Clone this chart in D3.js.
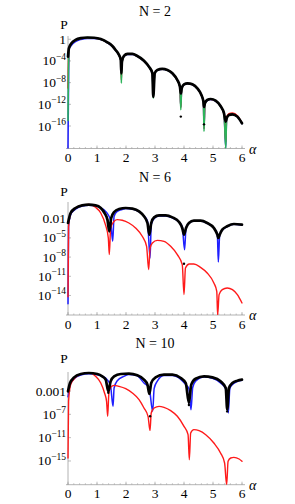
<!DOCTYPE html>
<html>
<head>
<meta charset="utf-8">
<script src="https://cdn.jsdelivr.net/npm/d3@7"></script>
<style>
  body { margin: 0; background: #fff; }
  svg { display: block; font-family: "Liberation Serif", "Times New Roman", serif; }
</style>
</head>
<body>
<div id="chart"></div>
<script>
// values: alpha and log10(P)
const xTicks = [0, 1, 2, 3, 4, 5, 6];

// ---- N = 2 ----
const alphaN2 = [0, 0.03, 0.12, 0.26, 0.44, 0.67, 0.9, 1.13, 1.36, 1.53, 1.64, 1.76, 1.82, 1.84, 1.86, 1.93, 2.05, 2.22, 2.39, 2.62, 2.79, 2.91, 2.94, 2.99, 3.08, 3.25, 3.43, 3.6, 3.77, 3.86, 3.89, 3.92, 4.0, 4.12, 4.29, 4.46, 4.6, 4.67, 4.69, 4.72, 4.8, 4.92, 5.09, 5.26, 5.38, 5.44, 5.47, 5.55, 5.67, 5.84, 6.0];
const blackN2 = [-3.2, -1.67, -0.74, -0.13, 0.2, 0.32, 0.28, 0.04, -0.56, -1.24, -1.97, -2.9, -3.82, -6.3, -4.13, -3.08, -2.71, -2.71, -3.08, -3.95, -5.05, -6.28, -10.6, -6.28, -5.66, -5.48, -5.66, -6.28, -7.51, -8.74, -10.0, -9.05, -8.31, -8.12, -8.31, -9.05, -10.28, -11.51, -12.5, -11.82, -11.2, -11.02, -11.33, -12.31, -13.66, -15.2, -14.58, -13.97, -13.84, -14.27, -15.5];
const blueN2 = [-21, -1.9, -1.1, -0.45, -0.05, 0.15, 0.15, -0.05, -0.65, -1.35, -2.05, -3.0, -3.9, -6.6, -4.2, -3.15, -2.8, -2.8, -3.15, -4.05, -5.1, -6.35, -10.5, -6.35, -5.75, -5.55, -5.75, -6.35, -7.6, -8.8, -12.5, -9.1, -8.4, -8.2, -8.4, -9.1, -10.35, -11.6, -16.5, -11.9, -11.3, -11.1, -11.4, -12.4, -13.7, -20, -14.6, -14.0, -13.9, -14.3, -15.55];
const redN2 = [-9, -1.7, -0.8, -0.2, 0.15, 0.3, 0.25, 0.0, -0.6, -1.3, -2.0, -2.95, -3.85, -7.5, -4.15, -3.1, -2.75, -2.75, -3.1, -4.0, -5.05, -6.3, -10.3, -6.3, -5.7, -5.5, -5.7, -6.3, -7.55, -8.75, -12.6, -9.05, -8.35, -8.15, -8.35, -9.05, -10.3, -11.55, -16.5, -11.85, -11.2, -11.05, -11.35, -12.35, -13.65, -19, -14.4, -13.75, -13.6, -14.1, -15.45];
const greenN2 = [-15, -1.75, -0.8, -0.2, 0.15, 0.3, 0.25, 0.0, -0.6, -1.3, -2.0, -2.95, -3.85, -8.1, -4.15, -3.1, -2.75, -2.75, -3.1, -4.0, -5.05, -6.3, -10.9, -6.3, -5.7, -5.5, -5.7, -6.3, -7.55, -8.75, -13.0, -9.05, -8.35, -8.15, -8.35, -9.05, -10.3, -11.55, -17.0, -11.85, -11.2, -11.05, -11.35, -12.35, -13.65, -21, -14.6, -14.0, -13.85, -14.3, -15.5];
const strayN2 = [[3.89, -14.27], [4.69, -15.7]];
const yTicksN2 = [0, -4, -8, -12, -16];
const yLabelsN2 = ["1", "10^−4", "10^−8", "10^−12", "10^−16"];

// ---- N = 6 ----
const alphaBlackN6 = [0, 0.09, 0.26, 0.49, 0.72, 0.95, 1.13, 1.26, 1.36, 1.425, 1.49, 1.59, 1.76, 1.99, 2.22, 2.45, 2.62, 2.74, 2.805, 2.87, 2.97, 3.14, 3.37, 3.6, 3.83, 3.94, 4.0, 4.07, 4.17, 4.34, 4.57, 4.8, 5.03, 5.15, 5.184, 5.23, 5.32, 5.49, 5.72, 6.0];
const blackN6 = [-2.67, -1.11, -0.33, 0.09, 0.19, 0.09, -0.33, -1.11, -2.15, -3.97, -1.89, -0.95, -0.48, -0.33, -0.43, -0.85, -1.63, -2.67, -4.5, -2.67, -1.79, -1.47, -1.47, -1.79, -2.52, -3.45, -4.5, -3.45, -2.67, -2.31, -2.31, -2.67, -3.45, -4.5, -5.02, -4.5, -3.71, -3.19, -2.83, -2.93];
const alphaBlueN6 = [0, 0.02, 0.09, 0.26, 0.49, 0.72, 0.95, 1.13, 1.26, 1.36, 1.47, 1.54, 1.59, 1.7, 1.87, 1.99, 2.22, 2.45, 2.62, 2.74, 2.83, 2.87, 2.97, 3.14, 3.37, 3.6, 3.83, 3.94, 4.02, 4.07, 4.17, 4.34, 4.57, 4.8, 5.03, 5.15, 5.184, 5.23, 5.32, 5.49, 5.72, 6.0];
const blueN6 = [-15.3, -3.2, -1.4, -0.5, 0.0, 0.12, 0.03, -0.3, -0.7, -1.2, -2.3, -5.54, -1.6, -0.85, -0.55, -0.4, -0.5, -0.92, -1.55, -2.35, -8.14, -2.9, -1.95, -1.58, -1.58, -1.88, -2.55, -3.25, -6.84, -3.4, -2.72, -2.36, -2.36, -2.72, -3.45, -4.45, -8.77, -4.55, -3.78, -3.25, -2.88, -2.98];
const alphaRedN6 = [0, 0.02, 0.09, 0.26, 0.49, 0.72, 0.95, 1.13, 1.29, 1.39, 1.425, 1.47, 1.59, 1.7, 1.87, 2.1, 2.33, 2.56, 2.71, 2.782, 2.83, 2.91, 3.08, 3.31, 3.54, 3.77, 3.94, 4.0, 4.05, 4.18, 4.34, 4.57, 4.8, 5.03, 5.13, 5.16, 5.21, 5.32, 5.49, 5.67, 5.84, 6.0];
const redN6 = [-14.2, -3.2, -1.2, -0.35, 0.12, 0.24, -0.22, -1.11, -2.93, -5.0, -7.62, -3.45, -2.41, -2.15, -2.25, -2.67, -3.45, -4.75, -6.32, -9.96, -6.58, -5.8, -5.38, -5.54, -6.32, -7.62, -9.18, -13.87, -9.7, -9.08, -9.08, -9.6, -10.48, -12.05, -13.35, -18, -13.87, -13.09, -12.83, -13.09, -13.87, -15.17];
const strayN6 = [[4.0, -9.04], [1.42, -3.2], [2.8, -3.9]];
const yTicksN6 = [-2, -5, -8, -11, -14];
const yLabelsN6 = ["0.01", "10^−5", "10^−8", "10^−11", "10^−14"];

// ---- N = 10 ----
const alphaBlackN10 = [0, 0.07, 0.21, 0.44, 0.72, 1.01, 1.18, 1.3, 1.39, 1.47, 1.59, 1.82, 2.1, 2.39, 2.62, 2.74, 2.805, 2.87, 3.02, 3.31, 3.6, 3.89, 4.06, 4.17, 4.25, 4.4, 4.69, 4.98, 5.26, 5.44, 5.49, 5.55, 5.67, 5.84, 6.0];
const blackN10 = [-3.06, -1.63, -0.66, -0.08, 0.09, -0.08, -0.48, -1.06, -3.06, -1.34, -0.48, -0.08, -0.03, -0.31, -1.06, -1.9, -3.51, -1.63, -0.66, -0.2, -0.2, -0.77, -1.63, -5.06, -1.91, -0.89, -0.48, -0.66, -1.34, -2.49, -6.2, -2.49, -1.63, -1.23, -1.06];
const alphaBlueN10 = [0, 0.07, 0.21, 0.44, 0.72, 1.01, 1.18, 1.3, 1.39, 1.47, 1.552, 1.59, 1.7, 1.93, 2.1, 2.39, 2.62, 2.8, 2.92, 2.97, 3.08, 3.31, 3.6, 3.89, 4.06, 4.17, 4.241, 4.3, 4.4, 4.69, 4.98, 5.26, 5.44, 5.529, 5.58, 5.67, 5.84, 6.0];
const blueN10 = [-4.0, -2.0, -0.9, -0.25, -0.05, -0.2, -0.45, -0.8, -1.3, -2.2, -5.63, -2.49, -1.23, -0.48, -0.15, -0.4, -1.63, -2.49, -6.49, -2.6, -1.3, -0.35, -0.35, -1.0, -1.9, -2.6, -6.2, -2.4, -1.3, -0.6, -0.8, -1.6, -2.7, -6.77, -2.6, -1.9, -1.35, -1.15];
const alphaRedN10 = [0, 0.02, 0.09, 0.26, 0.49, 0.72, 0.95, 1.13, 1.26, 1.33, 1.368, 1.41, 1.47, 1.59, 1.76, 1.99, 2.22, 2.45, 2.62, 2.76, 2.828, 2.87, 2.97, 3.14, 3.31, 3.54, 3.77, 4.0, 4.14, 4.184, 4.23, 4.34, 4.52, 4.75, 5.03, 5.26, 5.4, 5.471, 5.52, 5.61, 5.72, 5.9, 6.0];
const redN10 = [-14.5, -4.77, -1.91, -0.66, -0.02, 0.15, -0.48, -1.63, -3.34, -4.77, -7.34, -3.34, -2.37, -2.03, -2.2, -2.6, -3.34, -4.49, -5.92, -7.34, -9.8, -6.77, -5.92, -5.63, -5.8, -6.37, -7.34, -9.06, -10.49, -14.78, -10.2, -9.63, -9.8, -10.49, -11.92, -13.63, -15.35, -20, -15.06, -14.49, -14.38, -14.66, -15.06];
const strayN10 = [[2.83, -7.34], [4.17, -5.4], [5.49, -6.5], [1.39, -3.3]];
const yTicksN10 = [-3, -7, -11, -15];
const yLabelsN10 = ["0.001", "10^−7", "10^−11", "10^−15"];

const colors = { blue: "#1f1fff", red: "#ff1a1a", green: "#2db35a", black: "#000" };

const svg = d3.select("#chart").append("svg")
  .attr("width", 295)
  .attr("height", 504);

const panels = [
  { title: "N = 2", titleY: 16, pY: 29, yTop: 36, yBot: 148.5, eTop: 0.6, eBot: -20.15,
    ticks: yTicksN2, labels: yLabelsN2, stray: strayN2,
    series: [
      { a: alphaN2, e: blueN2, c: colors.blue, w: 1.5 },
      { a: alphaN2, e: redN2, c: colors.red, w: 1.5 },
      { a: alphaN2, e: greenN2, c: colors.green, w: 1.6 },
      { a: alphaN2, e: blackN2, c: colors.black, w: 2.7 }
    ] },
  { title: "N = 6", titleY: 182, pY: 196, yTop: 202, yBot: 315, eTop: 0.61, eBot: -17.05,
    ticks: yTicksN6, labels: yLabelsN6, stray: strayN6,
    series: [
      { a: alphaBlueN6, e: blueN6, c: colors.blue, w: 1.5 },
      { a: alphaRedN6, e: redN6, c: colors.red, w: 1.4 },
      { a: alphaBlackN6, e: blackN6, c: colors.black, w: 2.7 }
    ] },
  { title: "N = 10", titleY: 348, pY: 363, yTop: 372, yBot: 484.7, eTop: 0.26, eBot: -19.07,
    ticks: yTicksN10, labels: yLabelsN10, stray: strayN10,
    series: [
      { a: alphaBlueN10, e: blueN10, c: colors.blue, w: 1.5 },
      { a: alphaRedN10, e: redN10, c: colors.red, w: 1.4 },
      { a: alphaBlackN10, e: blackN10, c: colors.black, w: 2.7 }
    ] }
];

const x = d3.scaleLinear().domain([0, 6]).range([68, 242]);

panels.forEach((p, pi) => {
  const y = d3.scaleLog()
    .domain([Math.pow(10, p.eBot), Math.pow(10, p.eTop)])
    .range([p.yBot, p.yTop])
    .clamp(true);

  const g = svg.append("g");

  svg.append("clipPath").attr("id", "clip" + pi)
    .append("rect")
    .attr("x", 66).attr("y", p.yTop - 6)
    .attr("width", 180).attr("height", p.yBot - p.yTop + 6);

  // title and axis names
  g.append("text")
    .attr("x", 155).attr("y", p.titleY)
    .attr("text-anchor", "middle")
    .attr("font-size", 14)
    .text(p.title);
  g.append("text")
    .attr("x", 64).attr("y", p.pY)
    .attr("text-anchor", "middle")
    .attr("font-size", 13.5)
    .text("P");
  g.append("text")
    .attr("x", 249).attr("y", p.yBot + 5)
    .attr("font-size", 14)
    .attr("font-style", "italic")
    .text("α");

  // axes
  const axisColor = "#a0a0a0";
  g.append("line")
    .attr("x1", 66).attr("x2", 245)
    .attr("y1", p.yBot).attr("y2", p.yBot)
    .attr("stroke", axisColor).attr("stroke-width", 0.8);
  g.append("line")
    .attr("x1", x(0)).attr("x2", x(0))
    .attr("y1", p.yBot).attr("y2", p.yTop)
    .attr("stroke", axisColor).attr("stroke-width", 0.8);

  const minor = d3.range(0, 6.001, 0.2);
  g.selectAll(".xminor").data(minor).join("line")
    .attr("x1", d => x(d)).attr("x2", d => x(d))
    .attr("y1", p.yBot).attr("y2", p.yBot - 1.5)
    .attr("stroke", axisColor).attr("stroke-width", 0.6);
  g.selectAll(".xmajor").data(xTicks).join("line")
    .attr("x1", d => x(d)).attr("x2", d => x(d))
    .attr("y1", p.yBot).attr("y2", p.yBot - 3)
    .attr("stroke", axisColor).attr("stroke-width", 0.7);
  g.selectAll(".xlab").data(xTicks).join("text")
    .attr("x", d => x(d)).attr("y", p.yBot + 13.5)
    .attr("text-anchor", "middle")
    .attr("font-size", 13.5)
    .text(d => d);

  g.selectAll(".ymajor").data(p.ticks).join("line")
    .attr("x1", x(0)).attr("x2", x(0) + 3)
    .attr("y1", d => y(Math.pow(10, d))).attr("y2", d => y(Math.pow(10, d)))
    .attr("stroke", axisColor).attr("stroke-width", 0.7);

  p.ticks.forEach((t, i) => {
    const parts = p.labels[i].split("^");
    const ty = y(Math.pow(10, t)) + 4.5;
    const txt = g.append("text")
      .attr("x", 66).attr("y", ty)
      .attr("text-anchor", "end")
      .attr("font-size", 13.5);
    txt.append("tspan").text(parts[0]);
    if (parts[1]) {
      txt.append("tspan")
        .attr("dy", -5.5)
        .attr("font-size", 9.5)
        .text(parts[1]);
    }
  });

  // curves
  const line = d3.line()
    .x(d => x(d[0]))
    .y(d => y(Math.pow(10, d[1])))
    .curve(d3.curveMonotoneX);

  const plot = g.append("g").attr("clip-path", "url(#clip" + pi + ")");
  p.series.forEach(s => {
    const pts = s.a.map((a, i) => [a, s.e[i]]);
    plot.append("path")
      .attr("d", line(pts))
      .attr("fill", "none")
      .attr("stroke", s.c)
      .attr("stroke-width", s.w)
      .attr("stroke-linejoin", "round")
      .attr("stroke-linecap", "round");
  });

  plot.selectAll(".stray").data(p.stray).join("circle")
    .attr("cx", d => x(d[0]))
    .attr("cy", d => y(Math.pow(10, d[1])))
    .attr("r", 1.2)
    .attr("fill", "#000");
});
</script>
</body>
</html>
